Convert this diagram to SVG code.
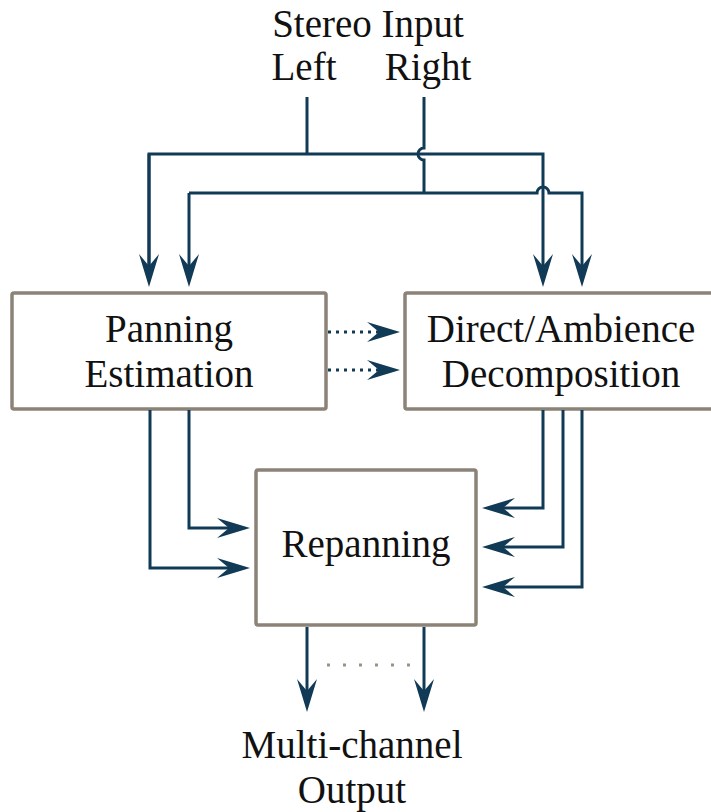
<svg xmlns="http://www.w3.org/2000/svg" width="711" height="812" viewBox="0 0 711 812">
<style>
.box{fill:#fff;stroke:#8b8377;stroke-width:3.5}
.t{font-family:"Liberation Serif","Times New Roman",serif;font-size:39px;fill:#111;text-anchor:middle}
.c{fill:none;stroke:#103a55;stroke-width:3}
.a{marker-end:url(#ah)}
.dot{fill:none;stroke:#103a55;stroke-width:3;stroke-dasharray:3 5}
.gdot{fill:none;stroke:#9a9288;stroke-width:3;stroke-dasharray:3 13}
</style>
<defs>
<marker id="ah" markerUnits="userSpaceOnUse" markerWidth="40" markerHeight="24" viewBox="0 0 40 24" refX="28" refY="12" orient="auto" overflow="visible">
<path d="M40,12 L7,2 L19,12 L7,22 Z" fill="#103a55"/>
</marker>
</defs>
<rect width="711" height="812" fill="#fff"/>
<g id="input-label">
<text class="t" x="368" y="37">Stereo Input</text>
<text class="t" x="304" y="80">Left</text>
<text class="t" x="428" y="80">Right</text>
</g>
<g id="panning-estimation">
<rect class="box" x="12" y="293" width="314" height="116" rx="2"/>
<text class="t" x="169" y="342">Panning</text>
<text class="t" x="169" y="387">Estimation</text>
</g>
<g id="direct-ambience">
<rect class="box" x="405" y="293" width="310" height="116" rx="2"/>
<text class="t" x="561" y="342">Direct/Ambience</text>
<text class="t" x="561" y="387">Decomposition</text>
</g>
<g id="repanning">
<rect class="box" x="256" y="470" width="220" height="155" rx="2"/>
<text class="t" x="366" y="557">Repanning</text>
</g>
<g id="output-label">
<text class="t" x="352" y="758">Multi-channel</text>
<text class="t" x="352" y="803">Output</text>
</g>
<g id="connectors">
<path class="c" d="M307,97 V154"/>
<path class="c a" d="M149,275 V154 H543 V275"/>
<path class="c a" d="M149,154 V275"/>
<path class="c" d="M424,97 V148 A6,6 0 0 0 424,160 V193"/>
<path class="c a" d="M189,193 V275"/>
<path class="c a" d="M189,193 H537 A6,6 0 0 1 549,193 H582 V275"/>
<path class="dot a" d="M328,332 H388"/>
<path class="dot a" d="M328,370 H388"/>
<path class="c a" d="M189,410 V528 H238"/>
<path class="c a" d="M150,410 V568 H238"/>
<path class="c a" d="M543,410 V508 H494"/>
<path class="c a" d="M563,410 V547 H494"/>
<path class="c a" d="M582,410 V587 H494"/>
<path class="c a" d="M307,627 V700"/>
<path class="c a" d="M424,627 V700"/>
<path class="gdot" d="M327,665 H412"/>
</g>
</svg>
